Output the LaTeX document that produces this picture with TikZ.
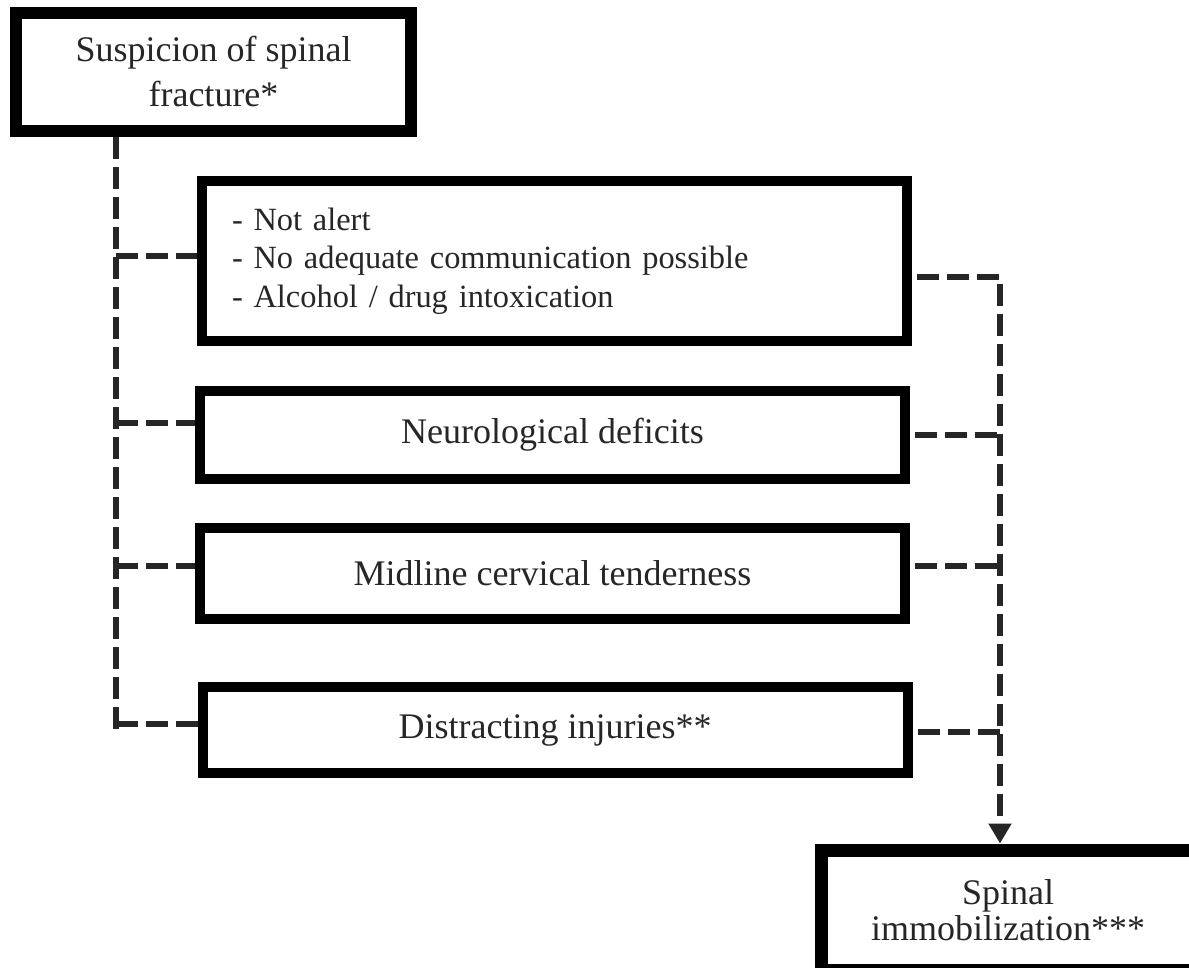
\documentclass[tikz,border=0pt]{standalone}
\usepackage{fontspec}
\setmainfont{Liberation Serif}
\usepackage{tikz}
\usetikzlibrary{arrows.meta}

\tikzset{
  box/.style={draw=black, rectangle, line width=5pt, minimum width=352.5pt, inner sep=0pt, text=black!85, font=\fontsize{18}{22.5}\selectfont},
  bigbox/.style={box, line width=6pt, align=center},
  dashln/.style={line width=2.8pt, dash pattern=on 11pt off 4pt, black!85}
}

\begin{document}
\begin{tikzpicture}[x=0.5pt, y=-0.5pt]
    \useasboundingbox (0,0) rectangle (1189,968);
    \clip (0,0) rectangle (1189,968);
    \node [bigbox, minimum width=197.5pt, minimum height=59pt] (top) at (213.5,72) {Suspicion of spinal\\fracture*};
    \node [box, minimum height=80pt, align=left, text width=322.5pt, inner xsep=15pt,
           font=\fontsize{16.2}{19.25}\selectfont] (lst) at (554.5,261)
           {- Not alert\\- No adequate communication possible\\- Alcohol / drug intoxication\\[8pt]};
    \node [box, minimum height=44pt] (neu) at (552.5,435) {Neurological deficits};
    \node [box, minimum height=45.5pt] (mid) at (552.5,573.5) {Midline cervical tenderness};
    \node [box, minimum height=43pt] (dis) at (555,730) {Distracting injuries**};
    \node [bigbox, line width=6.5pt, minimum width=187pt, minimum height=60pt,
           font=\fontsize{18}{18}\selectfont] (imm) at (1008,910) {Spinal\\immobilization***};
    \coordinate (lbot) at (116,732);
    \coordinate (rsp) at (1000,910);
    \draw [dashln] (top.south -| lbot) -- (lbot);
    \foreach \n/\s in {lst/2.5, neu/6, mid/3.75, dis/3}{
      \coordinate (\n-l) at ([yshift=\s pt]\n.west);
      \draw [dashln] (\n-l -| lbot) -- (\n-l);
    }
    \foreach \n/\s in {neu/0, mid/3.75, dis/-1}{
      \coordinate (\n-r) at ([xshift=2.5pt, yshift=\s pt]\n.east);
      \draw [dashln] (\n-r) -- (\n-r -| rsp);
    }
    \coordinate (lst-r) at ([xshift=2.5pt, yshift=-8pt]lst.east);
    \draw [dashln, -{Triangle[length=10pt, width=11pt]}] (lst-r) -| (rsp |- imm.north);
\end{tikzpicture}
\end{document}
